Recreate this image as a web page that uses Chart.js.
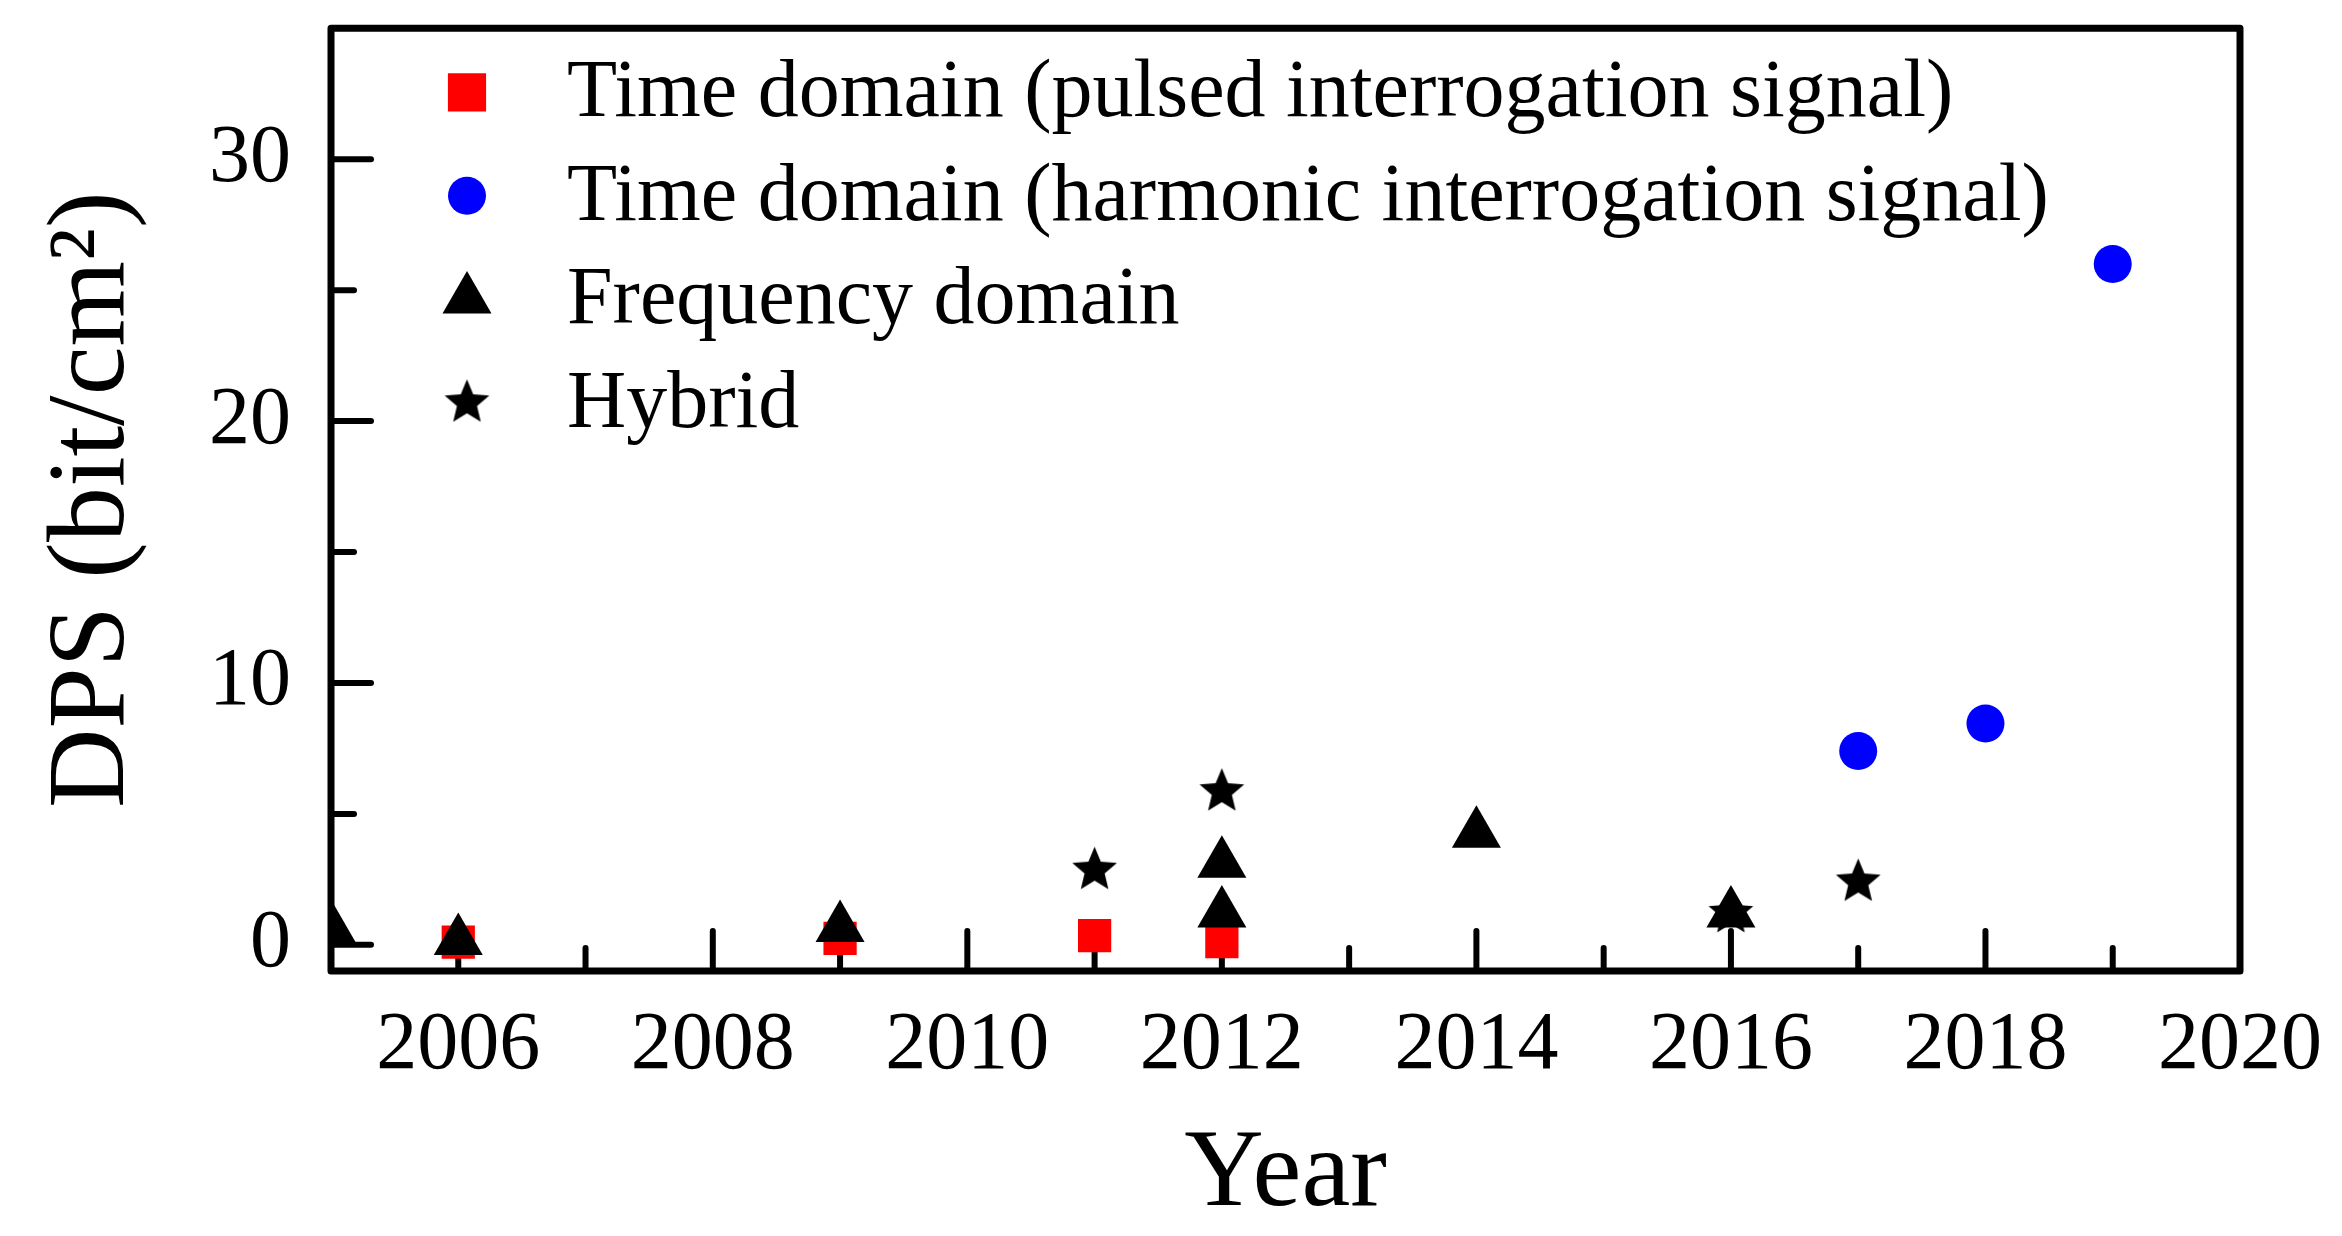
<!DOCTYPE html>
<html>
<head>
<meta charset="utf-8">
<script src="https://cdn.jsdelivr.net/npm/chart.js@4.4.1/dist/chart.umd.min.js"></script>
<style>
  html, body { margin: 0; padding: 0; background: #fff; }
  #wrap { width: 2342px; height: 1236px; }
</style>
</head>
<body>
<div id="wrap"><canvas id="dpsChart" width="2342" height="1236"></canvas></div>
<script>
// x = year, y = DPS (bit/cm2)
const pulsedYears = [2006, 2009, 2011, 2012];
const pulsedDps = [0.1, 0.25, 0.35, 0.12];
const harmonicYears = [2017, 2018, 2019];
const harmonicDps = [7.4, 8.45, 26.0];
const freqYears = [2005, 2006, 2009, 2012, 2012, 2014, 2016];
const freqDps = [0.65, 0.15, 0.65, 1.2, 3.1, 4.25, 1.2];
const hybridYears = [2011, 2012, 2016, 2017];
const hybridDps = [2.85, 5.85, 1.2, 2.4];

const seriesLabels = [
    'Time domain (pulsed interrogation signal)',
    'Time domain (harmonic interrogation signal)',
    'Frequency domain',
    'Hybrid'
];

const xTickLabels = [2006, 2008, 2010, 2012, 2014, 2016, 2018, 2020];
const xMinorTicks = [2007, 2009, 2011, 2013, 2015, 2017, 2019];
const yTickLabels = [0, 10, 20, 30];
const yMinorTicks = [5, 15, 25];

const FONT = "'Liberation Serif', 'Times New Roman', serif";

function toPoints(xs, ys) {
    return xs.map((x, i) => ({ x: x, y: ys[i] }));
}

// filled 5-point star (Chart.js 'star' is an asterisk)
function makeStar(R, color) {
    const c = document.createElement('canvas');
    const s = Math.ceil(R * 2) + 4;
    c.width = s;
    c.height = s;
    const g = c.getContext('2d');
    const r = R * 0.45;
    g.beginPath();
    for (let i = 0; i < 10; i++) {
        const a = -Math.PI / 2 + i * Math.PI / 5;
        const rr = i % 2 ? r : R;
        g.lineTo(s / 2 + rr * Math.cos(a), s / 2 + rr * Math.sin(a));
    }
    g.closePath();
    g.fillStyle = color;
    g.fill();
    return c;
}
const starImg = makeStar(23.5, '#000');

// box frame + inward ticks, under the markers
const frameAndTicks = {
    id: 'frameAndTicks',
    beforeDatasetsDraw(chart) {
        const { ctx, chartArea: a, scales: { x, y } } = chart;
        ctx.save();
        ctx.strokeStyle = '#000';
        ctx.lineCap = 'round';
        ctx.lineWidth = 6;
        const xTick = (v, len) => {
            const px = x.getPixelForValue(v);
            ctx.beginPath();
            ctx.moveTo(px, a.bottom);
            ctx.lineTo(px, a.bottom - len);
            ctx.stroke();
        };
        const yTick = (v, len) => {
            const py = y.getPixelForValue(v);
            ctx.beginPath();
            ctx.moveTo(a.left, py);
            ctx.lineTo(a.left + len, py);
            ctx.stroke();
        };
        xTickLabels.forEach(v => xTick(v, 40));
        xMinorTicks.forEach(v => xTick(v, 23));
        yTickLabels.forEach(v => yTick(v, 40));
        yMinorTicks.forEach(v => yTick(v, 23));
        ctx.lineWidth = 7;
        ctx.lineJoin = 'round';
        ctx.strokeRect(a.left, a.top, a.right - a.left, a.bottom - a.top);
        ctx.restore();
    }
};

// legend sits inside the plot, top left
const insideLegend = {
    id: 'insideLegend',
    afterDatasetsDraw(chart) {
        const { ctx, chartArea: a } = chart;
        ctx.save();
        chart.data.datasets.forEach((ds, i) => {
            const cy = a.top + 64 + i * 103.5;
            ctx.fillStyle = ds.backgroundColor;
            ctx.strokeStyle = ds.backgroundColor;
            Chart.helpers.drawPoint(ctx, {
                pointStyle: ds.pointStyle,
                radius: ds.legendRadius || ds.pointRadius,
                rotation: 0,
                borderWidth: 0
            }, a.left + 136, cy);
            ctx.fillStyle = '#000';
            ctx.font = '82px ' + FONT;
            ctx.textBaseline = 'alphabetic';
            ctx.textAlign = 'left';
            ctx.fillText(ds.label, a.left + 236, cy + 24);
        });
        ctx.restore();
    }
};

new Chart(document.getElementById('dpsChart'), {
    type: 'scatter',
    data: {
        datasets: [{
            label: seriesLabels[0],
            data: toPoints(pulsedYears, pulsedDps),
            pointStyle: 'rect',
            pointRadius: 23.5,
            legendRadius: 27,
            backgroundColor: '#ff0000',
            borderWidth: 0,
            order: 4
        }, {
            label: seriesLabels[1],
            data: toPoints(harmonicYears, harmonicDps),
            pointStyle: 'circle',
            pointRadius: 19,
            backgroundColor: '#0000ff',
            borderWidth: 0,
            order: 3
        }, {
            label: seriesLabels[2],
            data: toPoints(freqYears, freqDps),
            pointStyle: 'triangle',
            pointRadius: 28.3,
            backgroundColor: '#000000',
            borderWidth: 0,
            order: 2
        }, {
            label: seriesLabels[3],
            data: toPoints(hybridYears, hybridDps),
            pointStyle: starImg,
            pointRadius: 23.5,
            backgroundColor: '#000000',
            borderWidth: 0,
            order: 1
        }]
    },
    options: {
        responsive: false,
        animation: false,
        devicePixelRatio: 1,
        clip: 0,
        layout: { padding: { top: 23, right: 102, left: 0, bottom: 0 } },
        plugins: {
            legend: { display: false },
            tooltip: { enabled: false }
        },
        scales: {
            x: {
                type: 'linear',
                min: 2005,
                max: 2020,
                grid: { display: false, drawTicks: false },
                border: { display: false },
                afterBuildTicks: s => { s.ticks = xTickLabels.map(v => ({ value: v })); },
                afterFit: s => { s.height = 265; s.paddingLeft = 0; s.paddingRight = 0; },
                ticks: {
                    font: { family: FONT, size: 82 },
                    color: '#000',
                    padding: 26,
                    maxRotation: 0,
                    autoSkip: false,
                    callback: v => String(v)
                },
                title: {
                    display: true,
                    text: 'Year',
                    color: '#000',
                    font: { family: FONT, size: 110, lineHeight: 1 },
                    padding: { top: 0, bottom: 5 }
                }
            },
            y: {
                type: 'linear',
                min: -1,
                max: 35,
                grid: { display: false, drawTicks: false },
                border: { display: false },
                afterBuildTicks: s => { s.ticks = yTickLabels.map(v => ({ value: v })); },
                afterFit: s => { s.width = 331; s.paddingTop = 0; s.paddingBottom = 0; },
                ticks: {
                    font: { family: FONT, size: 82 },
                    color: '#000',
                    padding: 40,
                    autoSkip: false,
                    callback: v => String(v)
                },
                title: {
                    display: true,
                    text: 'DPS (bit/cm²)',
                    color: '#000',
                    font: { family: FONT, size: 110, lineHeight: 1 },
                    padding: { top: 39, bottom: 0 }
                }
            }
        }
    },
    plugins: [frameAndTicks, insideLegend]
});
</script>
</body>
</html>
